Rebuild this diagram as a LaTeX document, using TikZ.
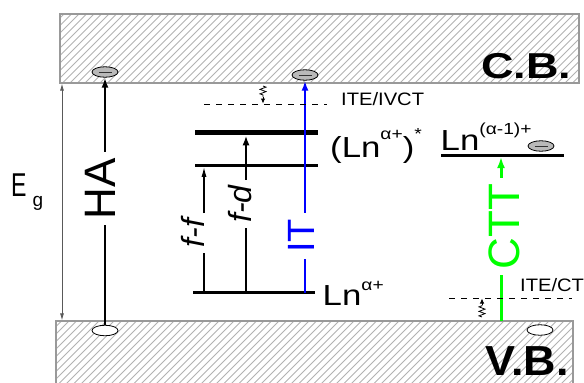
\documentclass[tikz,border=0pt]{standalone}
\usepackage{fontspec}
\setmainfont{Liberation Sans}
\usetikzlibrary{arrows.meta,shapes.geometric,decorations.pathmorphing}
\definecolor{brightgreen}{RGB}{0,255,0}
\definecolor{purblue}{RGB}{0,0,255}
\newcommand\supx[2][16pt]{\raisebox{#1}{\fontsize{16}{16}\selectfont #2}}
\begin{document}
\begin{tikzpicture}[x=1pt,y=-1pt,
  band/.style={draw=gray!80, line width=1.2pt},
  hatch/.style={draw=gray!60, line width=0.75pt},
  level/.style={line width=2.5pt},
  bar/.style={line width=4.8pt},
  elec/.style={ellipse, draw, fill=gray!55, minimum width=26pt, minimum height=10.5pt, inner sep=0pt, line width=0.8pt,
    path picture={\draw[line width=1pt, black!80] ([xshift=-6.5pt]path picture bounding box.center) -- ([xshift=6.5pt]path picture bounding box.center);}},
  hole/.style={ellipse, draw, fill=white, minimum width=26pt, minimum height=10.5pt, inner sep=0pt, line width=0.8pt},
  arr/.style={-{Latex[length=10pt,width=7pt]}, line width=2pt},
  arrsmall/.style={-{Latex[length=10pt,width=5pt]}, line width=1.3pt},
  arrg/.style={-{Latex[length=11pt,width=8pt]}, line width=3pt, draw=brightgreen},
  egarr/.style={{Latex[length=7pt,width=4pt]}-{Latex[length=7pt,width=4pt]}, draw=gray!70!black, line width=0.8pt},
  vlab/.style={rotate=90, inner sep=0pt, inner xsep=6pt},
  txt/.style={anchor=base west, inner sep=0pt},
  dashlevel/.style={line width=0.9pt, dash pattern=on 6pt off 6pt},
  squig/.style={decorate, decoration={zigzag, amplitude=3pt, segment length=4.5pt}, line width=0.8pt},
  sqarr/.style={-{Latex[length=5pt,width=4.5pt]}, line width=0.8pt}
]
\useasboundingbox (0,0) rectangle (584,383);
% conduction band
\begin{scope}
  \clip (60,14) rectangle (579,83);
  \foreach \i in {-80,-72.5,...,600} \draw[hatch] (\i,83) -- ++(70,-70);
\end{scope}
\draw[band] (60,14) rectangle (579,83);
% valence band
\begin{scope}
  \clip (56,321) rectangle (573,400);
  \foreach \i in {-80,-72.5,...,600} \draw[hatch] (\i,395) -- ++(80,-80);
\end{scope}
\draw[band] (56,321) rectangle (573,400);
\node[txt] (cb) at (481,78) {\fontsize{36}{36}\selectfont\bfseries\scalebox{1.25}[1]{C.B.}};
\node[txt] (vb) at (485,375) {\fontsize{42}{42}\selectfont\bfseries\scalebox{1.07}[1]{V.B.}};
% electrons and holes
\node[elec] (eHA) at (105,72) {};
\node[elec] (eIT) at (305,75) {};
\node[elec] (eCT) at (541,146) {};
\node[hole] (hHA) at (105,330.5) {};
\node[hole] (hVB) at (540,330) {};
% band gap
\coordinate (egt) at (62,83.6);
\coordinate (egb) at (62,320.4);
\draw[egarr] (egt) -- (egb);
\node[txt] (eg) at (11,196.7) {\fontsize{33}{33}\selectfont\scalebox{0.7}[1]{E}\hspace{6pt}\raisebox{-9.5pt}{\fontsize{19}{19}\selectfont g}};
% HA
\node[vlab] (HAt) at (100,188.5) {\fontsize{44}{44}\selectfont HA};
\draw[line width=2pt] (hHA.north) -- (hHA.north |- HAt.west);
\draw[arr] (hHA.north |- HAt.east) -- (eHA.south);
% levels
\coordinate (gL) at (193,292.7); \coordinate (gR) at (315,292.7);
\draw[level] (gL) -- (gR);
\coordinate (mL) at (195,165.5); \coordinate (mR) at (318,165.5);
\draw[level] (mL) -- (mR);
\coordinate (xL) at (195,132.8); \coordinate (xR) at (318,132.8);
\draw[bar] (xL) -- (xR);
\coordinate (cL) at (441,155.7); \coordinate (cR) at (564,155.7);
\draw[level] (cL) -- (cR);
% f-f
\coordinate (ffb) at (204,292.7); \coordinate (fft) at (204,166.8);
\node[vlab, inner xsep=5.5pt] (FF) at (193,233) {\fontsize{32}{32}\selectfont\itshape f-f};
\draw[line width=1.3pt] (ffb) -- (ffb |- FF.west);
\draw[arrsmall] (ffb |- FF.east) -- (fft);
% f-d
\coordinate (fdb) at (246,292.7); \coordinate (fdt) at (246,135.3);
\node[vlab, inner xsep=5.3pt] (FD) at (240,204) {\fontsize{32}{32}\selectfont\itshape f-d};
\draw[line width=2pt] (fdb) -- (fdb |- FD.west);
\draw[arr] (fdb |- FD.east) -- (fdt);
% IT
\coordinate (itb) at (305,292.7);
\node[vlab, text=purblue] (IT) at (301.5,236) {\fontsize{38}{38}\selectfont IT};
\draw[draw=purblue, line width=2pt] (itb) -- (itb |- IT.west);
\draw[arr, draw=purblue] (itb |- IT.east) -- (eIT.south);
% CTT
\coordinate (ctb) at (501,321); \coordinate (ctt) at (501,157);
\node[vlab, text=brightgreen] (CTT) at (504,226.5) {\fontsize{44}{44}\selectfont CTT};
\draw[draw=brightgreen, line width=3pt] (ctb) -- (ctb |- CTT.west);
\draw[arrg] (ctb |- CTT.east) -- (ctt);
% trap levels
\coordinate (d1L) at (204,104); \coordinate (d1R) at (327,104);
\draw[dashlevel] (d1L) -- (d1R);
\coordinate (s1a) at (263,86); \coordinate (s1b) at (263,97); \coordinate (s1c) at (263,103.5);
\draw[squig] (s1a) -- (s1b);
\draw[sqarr] (s1b) -- (s1c);
\coordinate (d2L) at (449,298); \coordinate (d2R) at (572,298);
\draw[dashlevel] (d2L) -- (d2R);
\coordinate (s2a) at (482,317); \coordinate (s2b) at (482,305); \coordinate (s2c) at (482,298.5);
\draw[squig] (s2a) -- (s2b);
\draw[sqarr] (s2b) -- (s2c);
\node[txt] (ite1) at (341,105) {\fontsize{18}{18}\selectfont\scalebox{1.12}[1]{ITE/IVCT}};
\node[txt] (ite2) at (520,291.7) {\fontsize{18}{18}\selectfont\scalebox{1.12}[1]{ITE/CT}};
% Ln labels
\node[txt] (lng) at (322.5,305) {\fontsize{29}{29}\selectfont\scalebox{1.2}[1]{Ln\supx[15pt]{α+}}};
\node[txt] (lnx) at (330,157) {\fontsize{29}{29}\selectfont\scalebox{1.2}[1]{(Ln\supx[18pt]{α+})\supx[18pt]{*}}};
\node[txt] (lnm) at (440.5,150) {\fontsize{29}{29}\selectfont\scalebox{1.2}[1]{Ln\supx{(α-1)+}}};
\end{tikzpicture}
\end{document}
